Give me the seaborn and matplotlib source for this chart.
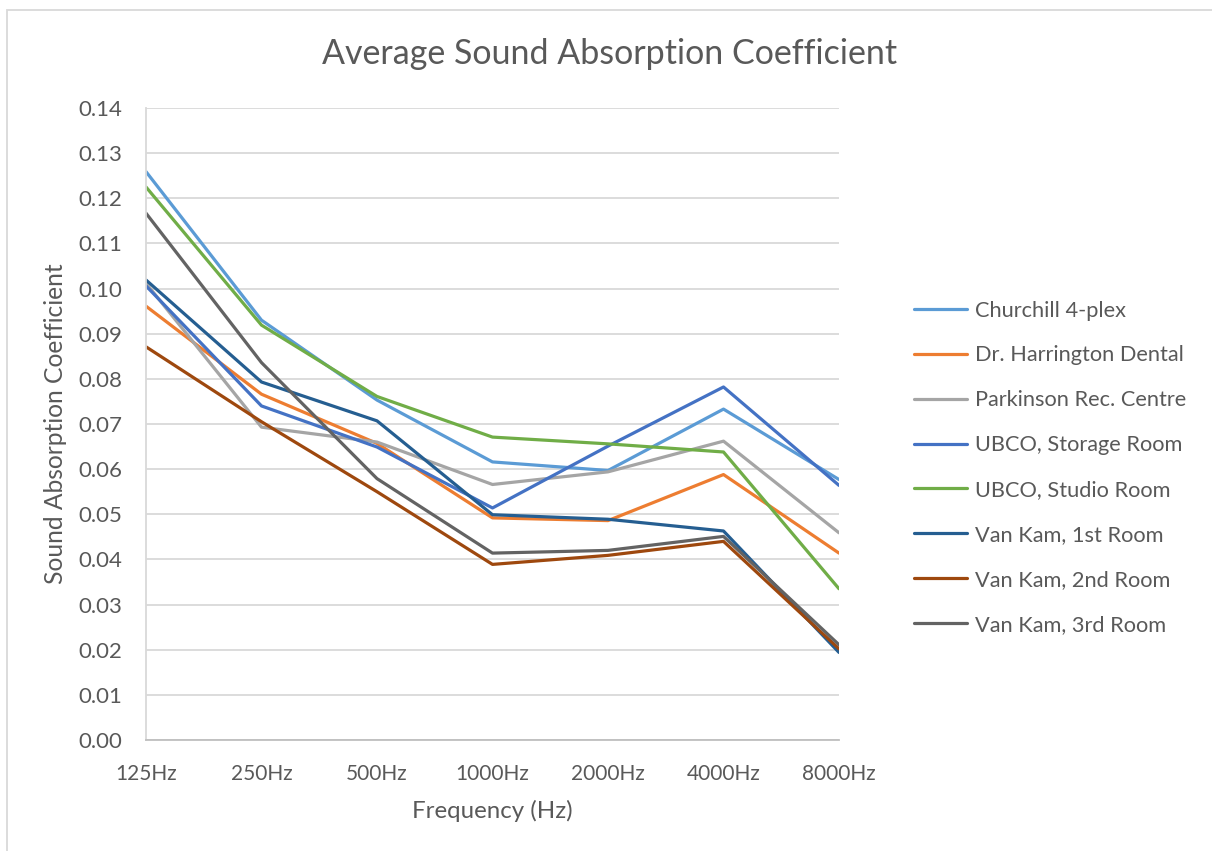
import matplotlib
matplotlib.use("Agg")
import matplotlib.pyplot as plt
import seaborn as sns
import pandas as pd
from matplotlib.patches import Rectangle

# Octave-band centre frequencies
frequencies = ["125Hz", "250Hz", "500Hz", "1000Hz", "2000Hz", "4000Hz", "8000Hz"]

# Average absorption coefficient per room
churchill = [0.1259, 0.0930, 0.0753, 0.0616, 0.0597, 0.0733, 0.0577]
harrington = [0.0961, 0.0766, 0.0657, 0.0492, 0.0486, 0.0588, 0.0414]
parkinson = [0.1012, 0.0693, 0.0660, 0.0566, 0.0594, 0.0662, 0.0459]
ubco_storage = [0.1006, 0.0740, 0.0649, 0.0514, 0.0651, 0.0782, 0.0564]
ubco_studio = [0.1225, 0.0919, 0.0761, 0.0671, 0.0656, 0.0638, 0.0335]
vankam_1 = [0.1019, 0.0793, 0.0707, 0.0499, 0.0489, 0.0463, 0.0194]
vankam_2 = [0.0871, 0.0705, 0.0550, 0.0389, 0.0409, 0.0440, 0.0202]
vankam_3 = [0.1167, 0.0836, 0.0579, 0.0414, 0.0420, 0.0451, 0.0211]

rooms = ["Churchill 4-plex", "Dr. Harrington Dental", "Parkinson Rec. Centre",
         "UBCO, Storage Room", "UBCO, Studio Room", "Van Kam, 1st Room",
         "Van Kam, 2nd Room", "Van Kam, 3rd Room"]
series = [churchill, harrington, parkinson, ubco_storage, ubco_studio,
          vankam_1, vankam_2, vankam_3]
colors = ["#5B9BD5", "#ED7D31", "#A5A5A5", "#4472C4", "#70AD47",
          "#255E91", "#9E480E", "#636363"]

df = pd.DataFrame(
    [(room, f, v) for room, vals in zip(rooms, series) for f, v in zip(frequencies, vals)],
    columns=["Room", "Frequency", "Coefficient"],
)

sns.set_theme(style="white")
plt.rcParams["font.family"] = ["Lato", "DejaVu Sans"]
text_color = "#595959"
grid_color = "#D9D9D9"

fig = plt.figure(figsize=(12.12, 8.51), dpi=100)
fig.patch.set_facecolor("white")
# chart frame
fig.patches.append(Rectangle((7 / 1212, -0.05), 1.1, (851 - 10) / 851 + 0.05,
                             transform=fig.transFigure, fill=False,
                             edgecolor=grid_color, linewidth=1.3))

ax = fig.add_axes([146 / 1212, (851 - 740) / 851, (839 - 146) / 1212, (740 - 108) / 851])

sns.lineplot(data=df, x="Frequency", y="Coefficient", hue="Room",
             hue_order=rooms, palette=colors, linewidth=2.3, ax=ax,
             sort=False, estimator=None)

ax.set_xlim(0, len(frequencies) - 1)
ax.set_ylim(0, 0.14)
ax.set_yticks([i / 100 for i in range(15)])
ax.set_yticklabels([f"{i / 100:.2f}" for i in range(15)])
ax.yaxis.grid(True, color=grid_color, linewidth=1.3)
ax.xaxis.grid(False)
ax.set_axisbelow(True)

for side in ["top", "right"]:
    ax.spines[side].set_visible(False)
ax.spines["left"].set_color(grid_color)
ax.spines["left"].set_linewidth(1.3)
ax.spines["bottom"].set_color("#BFBFBF")
ax.spines["bottom"].set_linewidth(1.3)

ax.tick_params(axis="both", length=0, labelsize=15, colors=text_color)
ax.tick_params(axis="y", labelsize=16, pad=17)
ax.tick_params(axis="x", pad=17)

ax.set_xlabel("Frequency (Hz)", fontsize=17.3, color=text_color, labelpad=12)
ax.set_ylabel("Sound Absorption Coefficient", fontsize=17.7, color=text_color, labelpad=8)

fig.text(0.503, 1 - 54 / 851, "Average Sound Absorption Coefficient",
         ha="center", va="center", fontsize=24.5, color=text_color)

leg = ax.legend(loc="center left", bbox_to_anchor=(1.08, 0.431), frameon=False,
                fontsize=15.7, labelspacing=1.14, handlelength=2.45, handletextpad=0.35)
for t in leg.get_texts():
    t.set_color(text_color)
for h in leg.get_lines():
    h.set_linewidth(2.3)

fig.savefig("out.png", dpi=100, facecolor="white")
